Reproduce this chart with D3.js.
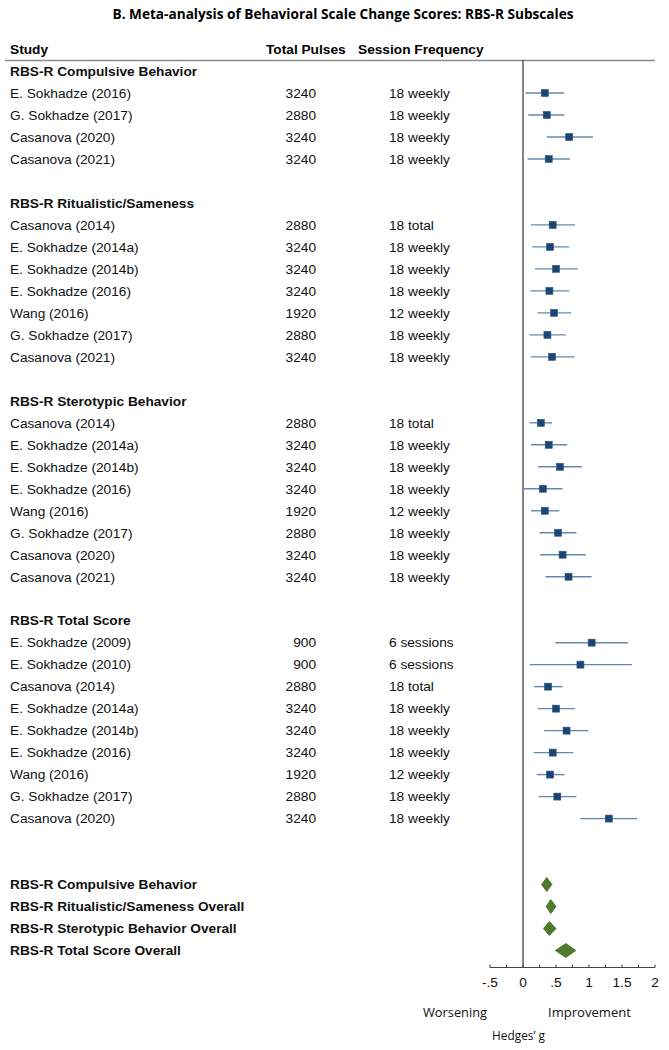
<!DOCTYPE html>
<html><head><meta charset="utf-8">
<script src="https://cdn.jsdelivr.net/npm/d3@7"></script>
<style>body{margin:0;background:#fff}svg{display:block}</style>
</head><body>
<script>
// ---- data ----
const groupTitles = ["RBS-R Compulsive Behavior","RBS-R Ritualistic/Sameness","RBS-R Sterotypic Behavior","RBS-R Total Score"];
const studyGroup = [0,0,0,0, 1,1,1,1,1,1,1, 2,2,2,2,2,2,2,2, 3,3,3,3,3,3,3,3,3];
const studyNames = [
 "E. Sokhadze (2016)","G. Sokhadze (2017)","Casanova (2020)","Casanova (2021)",
 "Casanova (2014)","E. Sokhadze (2014a)","E. Sokhadze (2014b)","E. Sokhadze (2016)","Wang (2016)","G. Sokhadze (2017)","Casanova (2021)",
 "Casanova (2014)","E. Sokhadze (2014a)","E. Sokhadze (2014b)","E. Sokhadze (2016)","Wang (2016)","G. Sokhadze (2017)","Casanova (2020)","Casanova (2021)",
 "E. Sokhadze (2009)","E. Sokhadze (2010)","Casanova (2014)","E. Sokhadze (2014a)","E. Sokhadze (2014b)","E. Sokhadze (2016)","Wang (2016)","G. Sokhadze (2017)","Casanova (2020)"];
const totalPulses = [3240,2880,3240,3240, 2880,3240,3240,3240,1920,2880,3240, 2880,3240,3240,3240,1920,2880,3240,3240, 900,900,2880,3240,3240,3240,1920,2880,3240];
const sessionFreq = ["18 weekly","18 weekly","18 weekly","18 weekly",
 "18 total","18 weekly","18 weekly","18 weekly","12 weekly","18 weekly","18 weekly",
 "18 total","18 weekly","18 weekly","18 weekly","12 weekly","18 weekly","18 weekly","18 weekly",
 "6 sessions","6 sessions","18 total","18 weekly","18 weekly","18 weekly","12 weekly","18 weekly","18 weekly"];
const effect = [0.33,0.36,0.70,0.39, 0.45,0.41,0.50,0.40,0.47,0.37,0.44, 0.27,0.39,0.56,0.30,0.33,0.53,0.60,0.69, 1.04,0.87,0.38,0.50,0.66,0.45,0.41,0.52,1.30];
const lower  = [0.04,0.08,0.36,0.07, 0.12,0.14,0.18,0.11,0.22,0.10,0.12, 0.10,0.12,0.23,-0.01,0.12,0.25,0.26,0.34, 0.49,0.10,0.17,0.22,0.32,0.16,0.21,0.24,0.87];
const upper  = [0.62,0.63,1.06,0.71, 0.79,0.70,0.83,0.70,0.73,0.65,0.78, 0.44,0.67,0.89,0.60,0.55,0.81,0.95,1.04, 1.59,1.65,0.60,0.79,0.99,0.76,0.63,0.81,1.73];
const overallLabels = ["RBS-R Compulsive Behavior","RBS-R Ritualistic/Sameness Overall","RBS-R Sterotypic Behavior Overall","RBS-R Total Score Overall"];
const overallEffect = [0.36,0.42,0.40,0.65];
const overallLower  = [0.28,0.35,0.31,0.49];
const overallUpper  = [0.44,0.50,0.50,0.80];
const tickValues = [-0.5,0,0.5,1,1.5,2];
const tickLabels = ["-.5","0",".5","1","1.5","2"];
const minorTicks = [-0.5,-0.25,0,0.25,0.5,0.75,1,1.25,1.5,1.75,2];

// ---- layout ----
const W = 669, H = 1050;
const svg = d3.select("body").append("svg").attr("width", W).attr("height", H);
const x = d3.scaleLinear().domain([-0.5, 2]).range([490, 655]);
const y = d3.scaleLinear().domain([0, 40]).range([71, 950.5]);
const arial = "Liberation Sans, Arial, sans-serif";
const cal = "'Open Sans', 'Noto Sans', sans-serif";
const fs = 13.7;

// build slot list
const rows = [];
let slot = 0;
groupTitles.forEach((g, gi) => {
  rows.push({type: "head", label: g, slot: slot++});
  studyGroup.forEach((sg, i) => { if (sg === gi) rows.push({type: "study", i, slot: slot++}); });
  slot++; // blank
});
slot++; // extra blank before overall
const overallStart = slot;

// title
svg.append("text").attr("x", 343).attr("y", 19).attr("text-anchor", "middle")
  .attr("font-family", cal).attr("font-weight", "bold").attr("font-size", 14)
  .attr("textLength", 461).attr("lengthAdjust", "spacingAndGlyphs")
  .text("B. Meta-analysis of Behavioral Scale Change Scores: RBS-R Subscales");

// header
const hdr = svg.append("g").attr("font-family", arial).attr("font-weight", "bold").attr("font-size", fs);
hdr.append("text").attr("x", 10).attr("y", 54).text("Study");
hdr.append("text").attr("x", 266).attr("y", 54).text("Total Pulses");
hdr.append("text").attr("x", 358).attr("y", 54).text("Session Frequency");
svg.append("line").attr("x1", 5).attr("x2", 655).attr("y1", 60.5).attr("y2", 60.5)
  .attr("stroke", "#8a8a8a").attr("stroke-width", 1.3);

// zero line
svg.append("line").attr("x1", x(0)).attr("x2", x(0)).attr("y1", 60).attr("y2", 967)
  .attr("stroke", "#444").attr("stroke-width", 1.3);

const txt = svg.append("g").attr("font-family", arial).attr("font-size", fs).attr("fill", "#111");
rows.forEach(r => {
  const yy = y(r.slot) + 4.8;
  if (r.type === "head") {
    txt.append("text").attr("x", 10).attr("y", yy).attr("font-weight", "bold").text(r.label);
  } else {
    txt.append("text").attr("x", 10).attr("y", yy).text(studyNames[r.i]);
    txt.append("text").attr("x", 316).attr("y", yy).attr("text-anchor", "end").text(totalPulses[r.i]);
    txt.append("text").attr("x", 389).attr("y", yy).text(sessionFreq[r.i]);
  }
});

// CIs and squares
const marks = svg.append("g");
rows.filter(r => r.type === "study").forEach(r => {
  const yy = y(r.slot);
  marks.append("line").attr("x1", x(lower[r.i])).attr("x2", x(upper[r.i]))
    .attr("y1", yy).attr("y2", yy).attr("stroke", "#6687ab").attr("stroke-width", 1.4);
  marks.append("rect").attr("x", x(effect[r.i]) - 3.5).attr("y", yy - 3.5)
    .attr("width", 7).attr("height", 7).attr("fill", "#1b4674").attr("stroke", "#2a5585").attr("stroke-width", 0.6);
});

// overall
overallLabels.forEach((lab, k) => {
  const yy = y(overallStart + k);
  txt.append("text").attr("x", 10).attr("y", yy + 4.8).attr("font-weight", "bold").text(lab);
  const h = 7;
  const pts = [[x(overallLower[k]), yy], [x(overallEffect[k]), yy - h], [x(overallUpper[k]), yy], [x(overallEffect[k]), yy + h]];
  svg.append("polygon").attr("points", pts.map(p => p.join(",")).join(" "))
    .attr("fill", "#4f7a2c").attr("stroke", "#456b26").attr("stroke-width", 0.8);
});

// axis
const axY = 967.5;
const ax = svg.append("g");
ax.append("line").attr("x1", x(-0.5)).attr("x2", x(2)).attr("y1", axY).attr("y2", axY)
  .attr("stroke", "#444").attr("stroke-width", 1.1);
minorTicks.forEach(t => {
  ax.append("line").attr("x1", x(t)).attr("x2", x(t)).attr("y1", axY).attr("y2", axY - 3)
    .attr("stroke", "#444").attr("stroke-width", 1.1);
});
tickValues.forEach((t, i) => {
  ax.append("text").attr("x", x(t)).attr("y", axY + 19).attr("text-anchor", "middle")
    .attr("font-family", arial).attr("font-size", fs).attr("fill", "#111").text(tickLabels[i]);
});

// bottom labels
const bl = svg.append("g").attr("font-family", cal).attr("font-size", 13).attr("fill", "#111");
bl.append("text").attr("x", 423).attr("y", 1017).attr("textLength", 64).attr("lengthAdjust", "spacingAndGlyphs").text("Worsening");
bl.append("text").attr("x", 548).attr("y", 1017).attr("textLength", 83).attr("lengthAdjust", "spacingAndGlyphs").text("Improvement");
bl.append("text").attr("x", 492).attr("y", 1040).attr("textLength", 53).attr("lengthAdjust", "spacingAndGlyphs").text("Hedges’ g");
</script>
</body></html>
